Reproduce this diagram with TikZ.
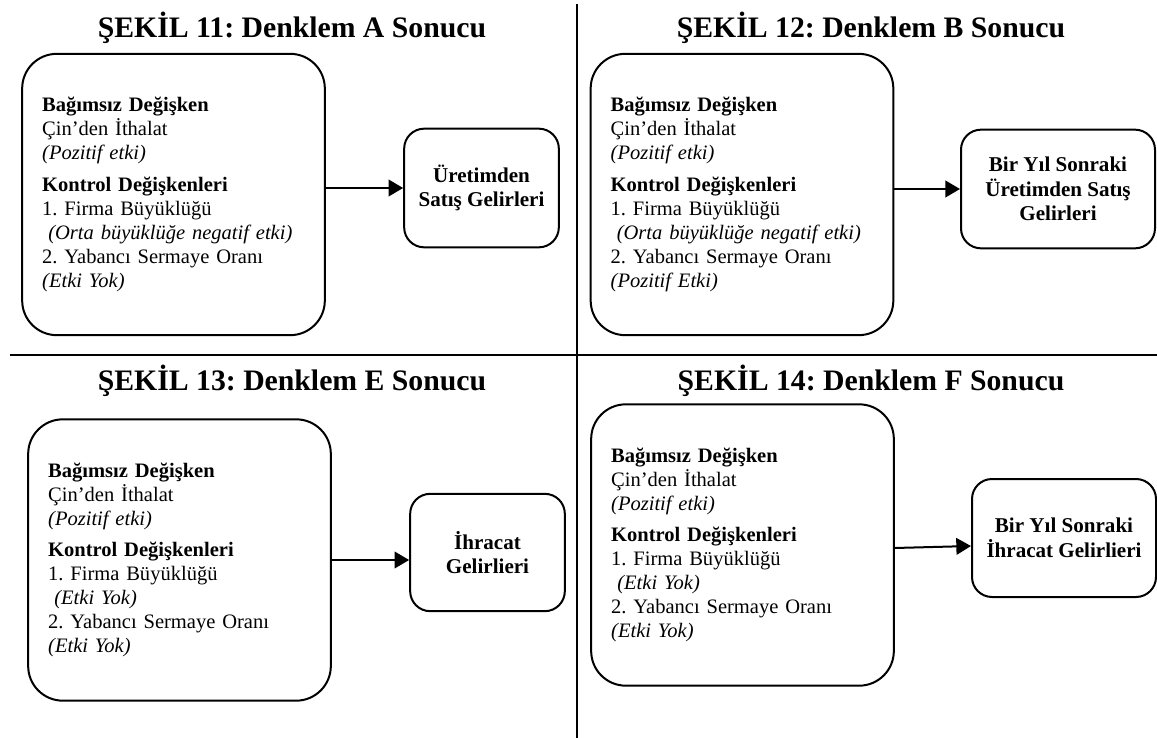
\documentclass[tikz,border=0pt]{standalone}
\usepackage{fontspec}
\setmainfont{Liberation Serif}
\usetikzlibrary{arrows.meta}
\frenchspacing
% common first lines of the left boxes
\newcommand{\bagimsizblok}{\textbf{Bağımsız Değişken}\\ Çin’den İthalat\\ \textit{(Pozitif etki)}\\[5.4pt]
  \textbf{Kontrol Değişkenleri}\\ 1. Firma Büyüklüğü\\}
\begin{document}
\begin{tikzpicture}[x=0.75pt,y=-0.75pt,
  baslik/.style={font=\fontsize{22.3}{27}\selectfont\bfseries},
  girdi/.style={draw, line width=1.5pt, rounded corners=26pt, minimum width=227pt, minimum height=211pt,
    text width=197pt, inner xsep=15pt, align=left, font=\fontsize{15.4}{18}\selectfont},
  cikti/.style={draw, line width=1.5pt, rounded corners=15pt, minimum height=89pt, inner sep=2pt,
    align=center, font=\fontsize{15.8}{18.5}\selectfont\bfseries},
  ok/.style={line width=1.5pt, -{Triangle[length=11pt,width=12.5pt]}}]
\useasboundingbox (0,0) rectangle (1157,738);
% separators
\draw[line width=1.5pt] (577,4) -- (577,738);
\draw[line width=1.5pt] (10,355) -- (1157,355);
% Sekil 11
\node[baslik] (t1) at (292,28) {ŞEKİL 11: Denklem A Sonucu};
\node[girdi] (b1) at (173.5,194.5) {\bagimsizblok
  \hspace*{.3em}\textit{(Orta büyüklüğe negatif etki)}\\ 2. Yabancı Sermaye Oranı\\ \textit{(Etki Yok)}};
\node[cikti, minimum width=116pt] (s1) at (481.5,188) {Üretimden\\ Satış Gelirleri};
\draw[ok] (b1.east |- s1.west) -- (s1.west);
% Sekil 12
\node[baslik] (t2) at (871,28) {ŞEKİL 12: Denklem B Sonucu};
\node[girdi] (b2) at (742,194.5) {\bagimsizblok
  \hspace*{.3em}\textit{(Orta büyüklüğe negatif etki)}\\ 2. Yabancı Sermaye Oranı\\ \textit{(Pozitif Etki)}};
\node[cikti, minimum width=145.5pt] (s2) at (1058,189) {Bir Yıl Sonraki\\ Üretimden Satış\\ Gelirleri};
\draw[ok] (b2.east |- s2.west) -- (s2.west);
% Sekil 13
\node[baslik] (t3) at (292,381) {ŞEKİL 13: Denklem E Sonucu};
\node[girdi] (b3) at (179.5,560) {\bagimsizblok
  \hspace*{.3em}\textit{(Etki Yok)}\\ 2. Yabancı Sermaye Oranı\\ \textit{(Etki Yok)}};
\node[cikti, minimum width=116pt, minimum height=88pt] (s3) at (487.5,552.5) {İhracat\\ Gelirlieri};
\draw[ok] (b3.east) -- (b3.east -| s3.west);
% Sekil 14
\node[baslik] (t4) at (871,381) {ŞEKİL 14: Denklem F Sonucu};
\node[girdi] (b4) at (742.5,545) {\bagimsizblok
  \hspace*{.3em}\textit{(Etki Yok)}\\ 2. Yabancı Sermaye Oranı\\ \textit{(Etki Yok)}};
\node[cikti, minimum width=138pt, minimum height=88.5pt] (s4) at (1064,538) {Bir Yıl Sonraki\\ İhracat Gelirlieri};
\draw[ok] ([yshift=-2.25pt]b4.east) -- ([yshift=-6pt]s4.west);
\end{tikzpicture}
\end{document}
